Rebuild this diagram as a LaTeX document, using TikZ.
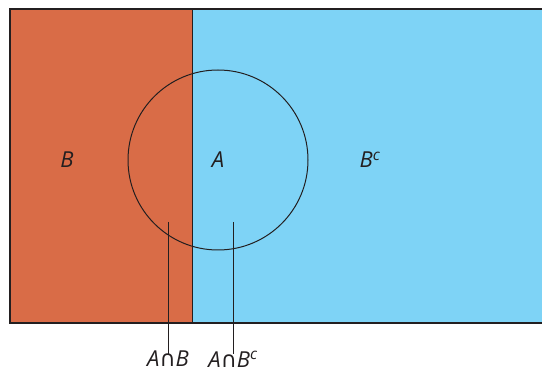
\documentclass[tikz,border=0pt]{standalone}
\usepackage{fontspec}
\setmainfont{Open Sans}
\newfontfamily\symfont{DejaVu Sans}
\definecolor{orangeB}{RGB}{217,108,71}
\definecolor{blueBc}{RGB}{126,211,246}
\definecolor{edge}{RGB}{35,31,32}
\newcommand{\capsym}{{\symfont\upshape\fontsize{22}{24}\selectfont∩}}
\begin{document}
\begin{tikzpicture}[x=1pt,y=-1pt,
  lbl/.style={font=\fontsize{22}{26}\selectfont\itshape, text=edge, inner sep=0pt},
  pointer/.style={draw=edge, line width=0.9pt}]
\useasboundingbox (0,0) rectangle (542,374);
\fill[orangeB] (10,9) rectangle (192,323);
\fill[blueBc] (192,9) rectangle (560,323);
\draw[edge, line width=1.5pt] (560,9) -- (10,9) -- (10,323) -- (560,323);
\draw[edge, line width=1pt] (192,9) -- (192,323);
\node[circle, draw=edge, line width=1pt, minimum size=180pt, inner sep=0pt] (circ) at (218,160) {};
\node[lbl] (B) at (67,160) {B};
\node[lbl] (A) at (218,160) {A};
\node[lbl] (Bc) at (370,160) {B\textsuperscript{c}};
\node[lbl, anchor=north] (AB) at (168,351) {A\capsym B};
\node[lbl, anchor=north] (ABc) at (233,351) {A\capsym B\textsuperscript{c}};
\coordinate (p1) at (168,222);
\coordinate (p2) at (233,222);
\draw[pointer] (p1) -- ([yshift=-3pt]p1 |- AB.north);
\draw[pointer] (p2) -- ([yshift=-3pt]p2 |- ABc.north);
\end{tikzpicture}
\end{document}
